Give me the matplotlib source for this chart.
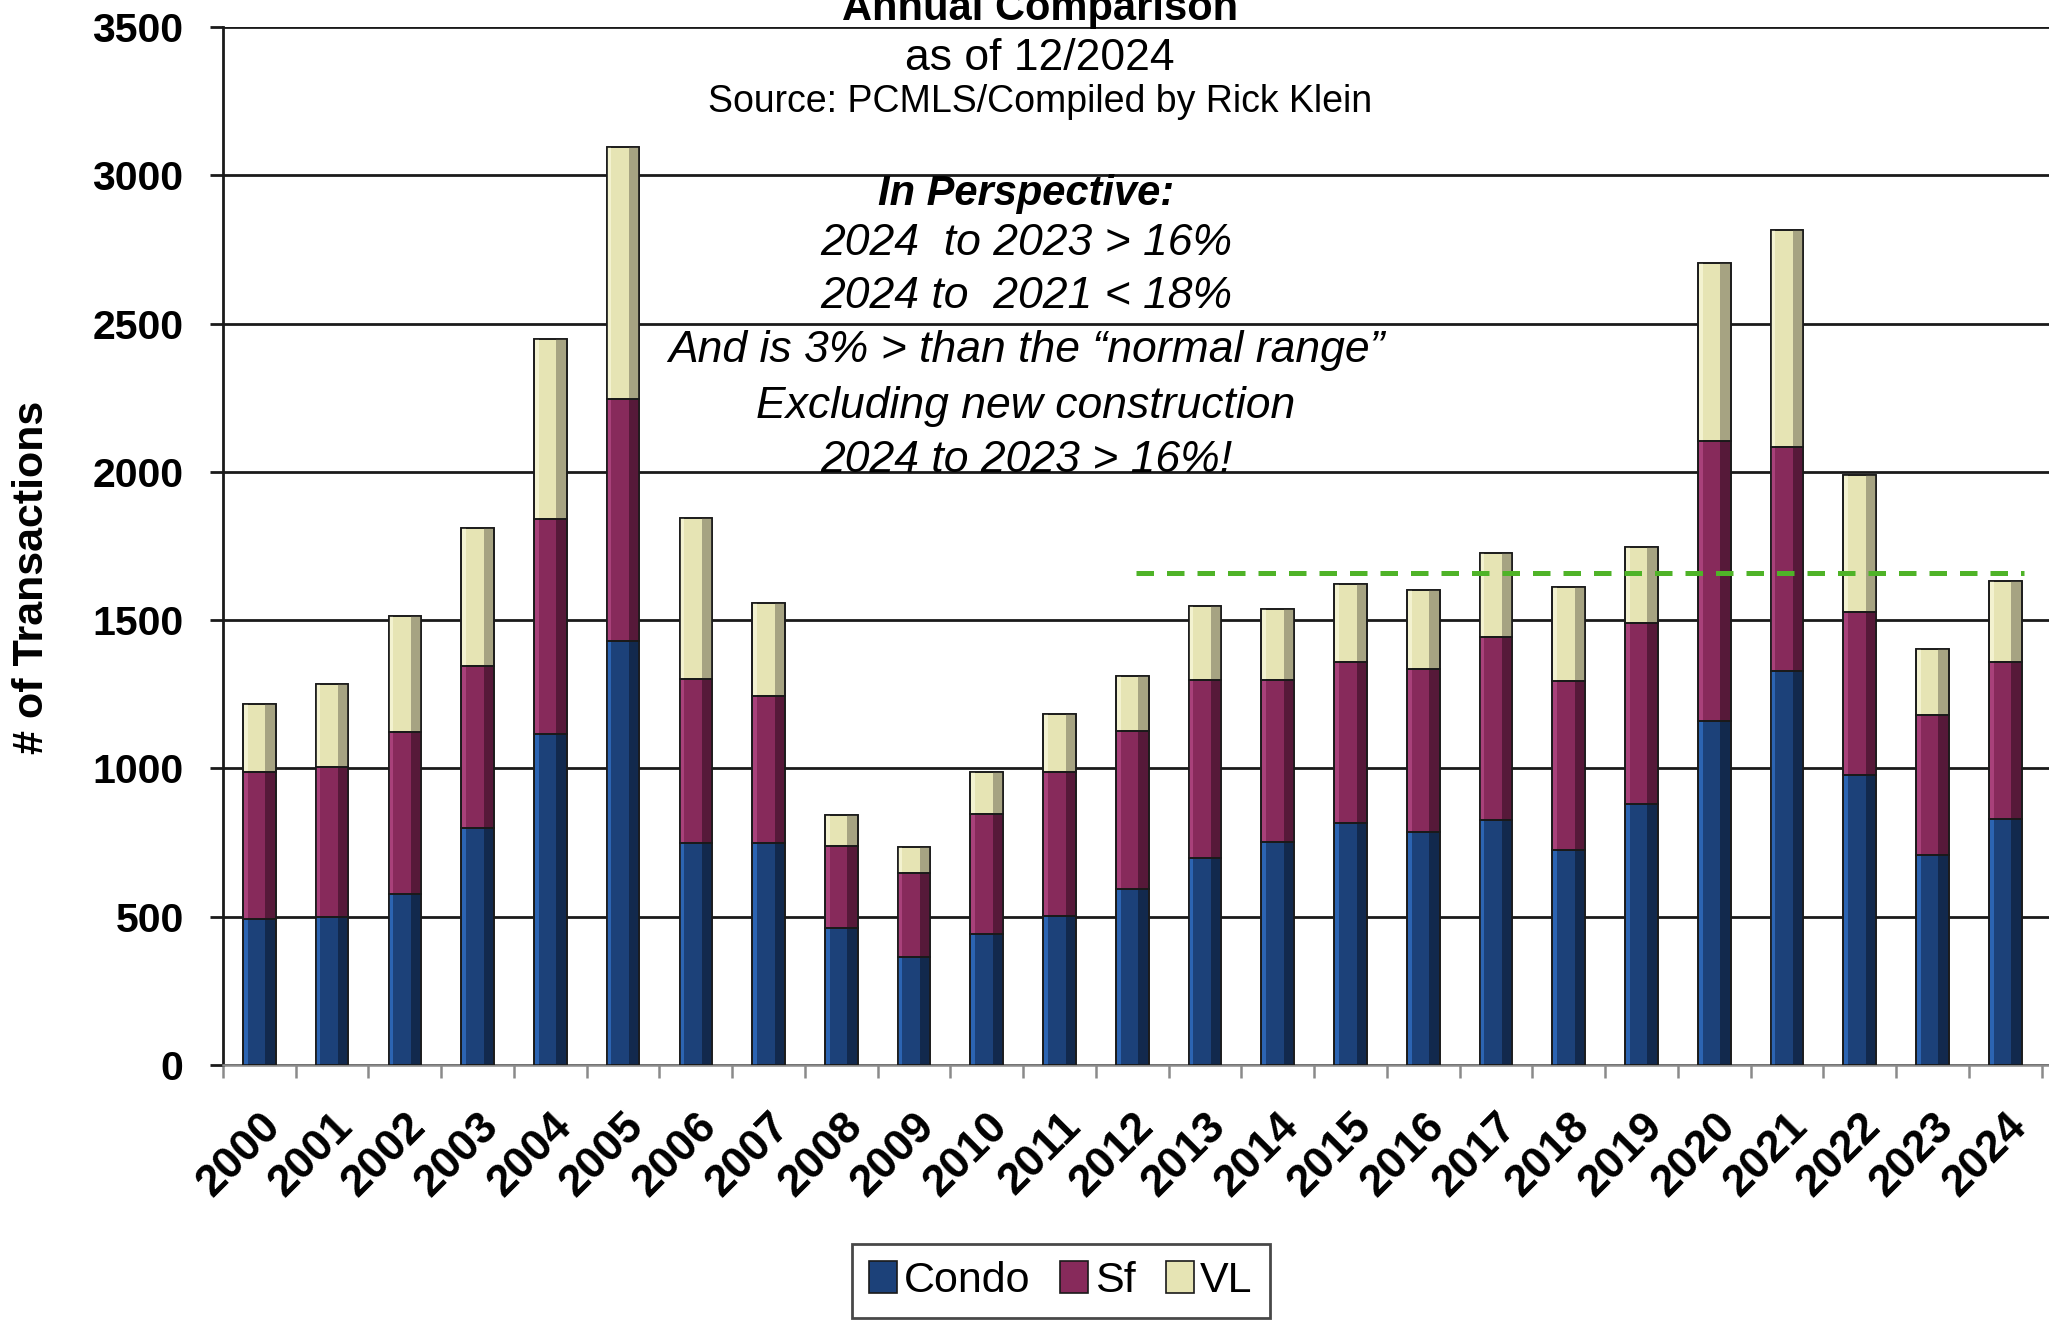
import matplotlib
matplotlib.use("Agg")
import matplotlib.pyplot as plt
from matplotlib.patches import Patch
import numpy as np

plt.rcParams["font.family"] = ["Liberation Sans", "DejaVu Sans"]

years = list(range(2000, 2025))
condo = [493, 500, 575, 800, 1115, 1428, 747, 747, 461, 364, 442, 503, 592,
         699, 751, 816, 786, 825, 724, 880, 1161, 1330, 977, 709, 829]
sf = [494, 506, 548, 544, 725, 819, 556, 496, 279, 285, 406, 484, 534,
      598, 546, 543, 548, 618, 571, 611, 942, 753, 551, 470, 530]
vl = [231, 277, 390, 468, 608, 848, 541, 315, 104, 87, 139, 195, 185,
      251, 241, 262, 268, 285, 317, 257, 602, 732, 462, 225, 272]
series_names = ["Condo", "Sf", "VL"]

normal_range = 1660
normal_from, normal_to = 2012, 2024

perspective_lines = [
    "2024  to 2023 > 16%",
    "2024 to  2021 < 18%",
    "And is 3% > than the \u201cnormal range\u201d",
    "Excluding new construction",
    "2024 to 2023 > 16%!",
]

# (mid, light, dark) shades for the bevelled look
shades = {
    "Condo": ("#1c4179", "#2c64b2", "#12294d"),
    "Sf": ("#872a5b", "#a8417a", "#561939"),
    "VL": ("#e6e4b4", "#f3f2d0", "#a6a382"),
}

W, H = 2049, 1323
fig = plt.figure(figsize=(W / 100, H / 100), dpi=100)
ax = fig.add_axes([223 / W, 1 - 1065 / H, 1 - 223 / W, (1065 - 27) / H])

x = np.arange(len(years))
bw = 0.45
bottom = np.zeros(len(years))
for name, vals in zip(series_names, [condo, sf, vl]):
    vals = np.array(vals, dtype=float)
    mid, light, dark = shades[name]
    ax.bar(x, vals, bw, bottom=bottom, color=mid, edgecolor="#1a1a1a",
           linewidth=1.2, zorder=3)
    # darker right side and lighter left rim
    ax.bar(x + bw * 0.33, vals, bw * 0.3, bottom=bottom, color=dark,
           linewidth=0, zorder=4)
    ax.bar(x - bw * 0.42, vals, bw * 0.12, bottom=bottom, color=light,
           linewidth=0, zorder=4)
    ax.bar(x, vals, bw, bottom=bottom, fill=False, edgecolor="#1a1a1a",
           linewidth=1.2, zorder=5)
    bottom += vals

i0 = years.index(normal_from)
i1 = years.index(normal_to)
ax.hlines(normal_range, i0 + 0.05, i1 + 0.25, colors="#4fb328", linewidth=3.6,
          linestyles=(0, (3.5, 2.6)), zorder=6)

ax.set_xlim(-0.5, 24.6)
ax.set_ylim(0, 3500)
ax.set_yticks(np.arange(0, 3501, 500))
ax.yaxis.grid(True, color="#1a1a1a", linewidth=2.0, zorder=0)
ax.set_axisbelow(True)
for s in ["top", "right"]:
    ax.spines[s].set_visible(False)
ax.spines["left"].set_linewidth(2.0)
ax.spines["left"].set_color("#1a1a1a")
ax.spines["bottom"].set_linewidth(1.8)
ax.spines["bottom"].set_color("#8a8a8a")

ax.tick_params(axis="y", direction="out", length=9.4, width=2.0,
               color="#1a1a1a", pad=19, labelsize=29.5)
for lab in ax.get_yticklabels():
    lab.set_fontweight("bold")

ax.set_xticks(x)
ax.set_xticklabels([str(y) for y in years], rotation=45, ha="right",
                   va="top", rotation_mode="anchor", fontsize=32,
                   fontweight="bold")
ax.tick_params(axis="x", which="major", length=0, pad=29)
ax.set_xticks(np.arange(-0.5, len(years)), minor=True)
ax.tick_params(axis="x", which="minor", length=9.4, width=1.8,
               color="#8a8a8a", direction="out")

fig.text(32 / W, 1 - 577 / H, "# of Transactions", rotation=90, ha="center",
         va="center", fontsize=31, fontweight="bold")

cx = 1040 / W
fig.text(cx, 1 - 20 / H, "Annual Comparison", ha="center", va="baseline",
         fontsize=30, fontweight="bold")
fig.text(cx, 1 - 70 / H, "as of 12/2024", ha="center", va="baseline",
         fontsize=32)
fig.text(cx, 1 - 112 / H, "Source: PCMLS/Compiled by Rick Klein", ha="center",
         va="baseline", fontsize=27)

px = 1026 / W
fig.text(px, 1 - 205 / H, "In Perspective:", ha="center", va="baseline",
         fontsize=30, fontweight="bold", fontstyle="italic")
for line, base in zip(perspective_lines, [255, 308, 362, 418, 472]):
    fig.text(px, 1 - base / H, line, ha="center", va="baseline",
             fontsize=32, fontstyle="italic")

handles = [Patch(facecolor=shades[n][0], edgecolor="#1a1a1a", linewidth=1.2)
           for n in series_names]
leg = fig.legend(handles, series_names, loc="center",
                 bbox_to_anchor=(1061 / W, 1 - 1281 / H), ncol=3,
                 fontsize=31, frameon=True, fancybox=False,
                 handlelength=0.65, handleheight=0.75, handletextpad=0.15,
                 columnspacing=0.7, borderpad=0.4, borderaxespad=0)
leg.get_frame().set_edgecolor("#1a1a1a")
leg.get_frame().set_linewidth(2)

fig.savefig("out.png", dpi=100)
